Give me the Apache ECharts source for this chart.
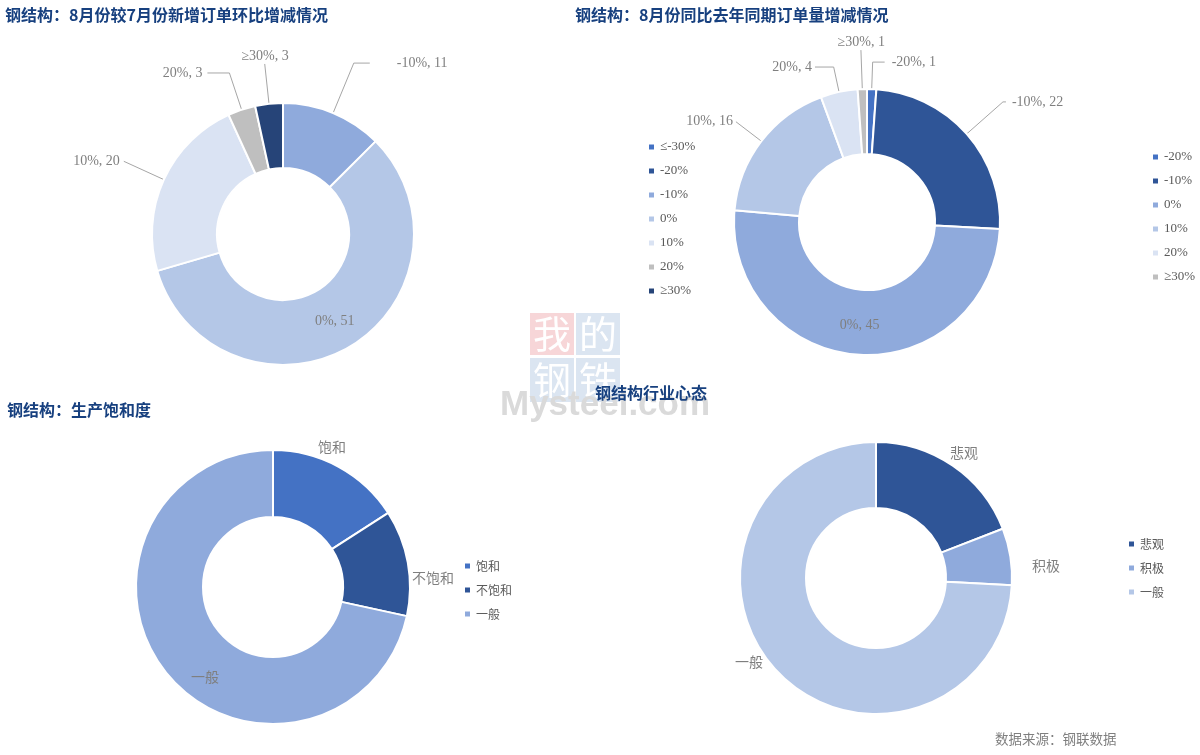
<!DOCTYPE html>
<html><head><meta charset="utf-8">
<script src="https://cdn.jsdelivr.net/npm/echarts@6/dist/echarts.min.js"></script>
<style>html,body{margin:0;padding:0;background:#fff}#c{width:1200px;height:755px}</style>
</head><body><div id="c"></div>
<script>
// ---- data ----
const cat1 = ['≤-30%', '-20%', '-10%', '0%', '10%', '20%', '≥30%'];
const val1 = [0, 0, 11, 51, 20, 3, 3];
const cat2 = ['-20%', '-10%', '0%', '10%', '20%', '≥30%'];
const val2 = [1, 22, 45, 16, 4, 1];
const cat3 = ['饱和', '不饱和', '一般'];
const val3 = [14, 11, 63];
const cat4 = ['悲观', '积极', '一般'];
const val4 = [17, 6, 66];
const titles = ['钢结构：8月份较7月份新增订单环比增减情况', '钢结构：8月份同比去年同期订单量增减情况', '钢结构：生产饱和度', '钢结构行业心态'];
const sourceText = '数据来源：钢联数据';

// ---- styles ----
const col1 = ['#4472c4', '#2f5597', '#8faadc', '#b4c7e7', '#dae3f3', '#bfbfbf', '#264478'];
const col2 = ['#4472c4', '#2f5597', '#8faadc', '#b4c7e7', '#dae3f3', '#bfbfbf'];
const col3 = ['#4472c4', '#2f5597', '#8faadc'];
const col4 = ['#2f5597', '#8faadc', '#b4c7e7'];
const lay1 = [{hide: 1}, {hide: 1}, {len: 54, len2: 16, dist: 27}, {inside: 1}, {len: 44, len2: 0, dist: 4}, {len: 38.7, len2: 22, dist: 5}, {len: 40, len2: 0, dist: -24, up: 1}];
const lay2 = [{len: 27, len2: 12, dist: 7}, {len: 48.4, len2: 3, dist: 6}, {inside: 1}, {len: 32, len2: 0, dist: 3}, {len: 25.5, len2: 18.7, dist: 3}, {len: 39, len2: 0, dist: -24, up: 1}];
const lay3 = [{len: 22.6, len2: -31.5, dist: 0, noline: 1}, {len: -86, len2: 88.8, dist: 0, noline: 1}, {len: 6.4, len2: -57.6, dist: 0, noline: 1}];
const lay4 = [{len: 15.5, len2: -11.5, dist: 0, noline: 1}, {len: -60, len2: 81, dist: 0, noline: 1}, {len: -14, len2: 24.5, dist: 0, noline: 1}];

const serif = "'Liberation Serif','Noto Sans CJK SC'";
const cjk = "'Noto Sans CJK SC'";

function buildData(cats, vals, cols, lay) {
  return cats.map((n, i) => {
    const L = lay[i];
    const d = {name: n, value: vals[i], itemStyle: {color: cols[i]}};
    if (L.hide) { d.label = {show: false}; d.labelLine = {show: false}; }
    else if (L.inside) { d.label = {position: 'inside'}; }
    else {
      d.label = {position: 'outside', distanceToLabelLine: L.dist};
      if (L.up) d.label.formatter = '{b}, {c}\n ';
      d.labelLine = {show: !L.noline, length: L.len, length2: L.len2};
    }
    return d;
  });
}
function legendData(cats, cols) { return cats.map((n, i) => ({name: n, itemStyle: {color: cols[i]}})); }

function pie(center, r0, r, data, fmt, font, size) {
  return {
    type: 'pie', center: center, radius: [r0, r], startAngle: 90, clockwise: true,
    avoidLabelOverlap: false, silent: true,
    itemStyle: {borderColor: '#fff', borderWidth: 2},
    label: {formatter: fmt, color: '#7f7f7f', fontFamily: font, fontSize: size, lineHeight: 16},
    labelLine: {lineStyle: {color: '#a6a6a6', width: 1}},
    emphasis: {disabled: true},
    data: data
  };
}
function legend(left, top, cats, cols, font, size) {
  return {
    orient: 'vertical', left: left, top: top, padding: 0, itemWidth: 7, itemHeight: 7, itemGap: 10,
    icon: 'rect', selectedMode: false,
    textStyle: {color: '#595959', fontFamily: font, fontSize: size, lineHeight: 14},
    data: legendData(cats, cols)
  };
}
const titleStyle = {color: '#17407f', fontFamily: cjk, fontSize: 16, fontWeight: 'bold', lineHeight: 20};

const chart = echarts.init(document.getElementById('c'));
chart.setOption({
  backgroundColor: '#fff',
  animation: false,
  title: [
    {text: titles[0], left: 5, top: 5, padding: 0, textStyle: titleStyle},
    {text: titles[1], left: 575, top: 5, padding: 0, textStyle: titleStyle},
    {text: titles[2], left: 7, top: 400, padding: 0, textStyle: titleStyle},
    {text: titles[3], left: 595, top: 383, padding: 0, textStyle: titleStyle}
  ],
  legend: [
    legend(647, 140, cat1, col1, serif, 13),
    legend(1151, 150, cat2, col2, serif, 13),
    legend(463, 559, cat3, col3, cjk, 12),
    legend(1127, 537, cat4, col4, cjk, 12)
  ],
  graphic: [
    {type: 'rect', z: -10, shape: {x: 530, y: 313, width: 44, height: 42}, style: {fill: '#f7d6d8'}},
    {type: 'rect', z: -10, shape: {x: 576, y: 313, width: 44, height: 42}, style: {fill: '#dbe5f1'}},
    {type: 'rect', z: -10, shape: {x: 530, y: 358, width: 44, height: 44}, style: {fill: '#dbe5f1'}},
    {type: 'rect', z: -10, shape: {x: 576, y: 358, width: 44, height: 44}, style: {fill: '#dbe5f1'}},
    {type: 'text', z: -9, style: {x: 552, y: 334, text: '我', fill: '#fff', font: '38px "Noto Sans CJK SC"', textAlign: 'center', textVerticalAlign: 'middle'}},
    {type: 'text', z: -9, style: {x: 598, y: 334, text: '的', fill: '#fff', font: '38px "Noto Sans CJK SC"', textAlign: 'center', textVerticalAlign: 'middle'}},
    {type: 'text', z: -9, style: {x: 552, y: 380, text: '钢', fill: '#fff', font: '38px "Noto Sans CJK SC"', textAlign: 'center', textVerticalAlign: 'middle'}},
    {type: 'text', z: -9, style: {x: 598, y: 380, text: '铁', fill: '#fff', font: '38px "Noto Sans CJK SC"', textAlign: 'center', textVerticalAlign: 'middle'}},
    {type: 'text', z: -8, style: {x: 500, y: 405, text: 'Mysteel.com', fill: '#dadada', font: 'bold 35px "Liberation Sans"', textAlign: 'left', textVerticalAlign: 'middle'}},
    {type: 'text', z: 10, style: {x: 995, y: 739, text: sourceText, fill: '#7f7f7f', font: '13.5px "Noto Sans CJK SC"', textAlign: 'left', textVerticalAlign: 'middle'}}
  ],
  series: [
    pie([283, 234], 66, 131, buildData(cat1, val1, col1, lay1), '{b}, {c}', serif, 14),
    pie([867, 222], 68, 133, buildData(cat2, val2, col2, lay2), '{b}, {c}', serif, 14),
    pie([273, 587], 70, 137, buildData(cat3, val3, col3, lay3), '{b}', cjk, 14),
    pie([876, 578], 70, 136, buildData(cat4, val4, col4, lay4), '{b}', cjk, 14)
  ]
});
</script></body></html>
